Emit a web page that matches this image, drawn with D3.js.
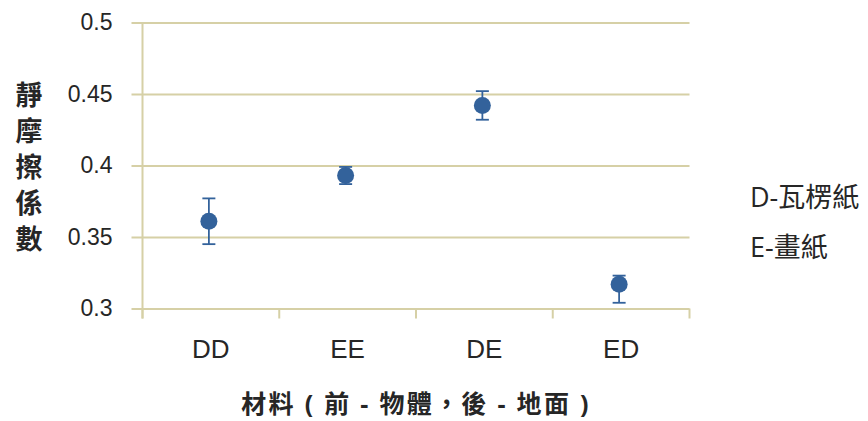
<!DOCTYPE html>
<html>
<head>
<meta charset="utf-8">
<script src="https://cdn.jsdelivr.net/npm/d3@7"></script>
<style>
  html, body { margin: 0; padding: 0; background: #fff; }
  svg { display: block; font-family: "Open Sans", "Noto Sans CJK TC", sans-serif; }
</style>
</head>
<body>
<svg id="chart" width="868" height="421"></svg>
<script>
// Static friction coefficient by material pairing (front = object, back = ground)
const categories = ["DD", "EE", "DE", "ED"];
const means      = [0.361, 0.393, 0.442, 0.317];
const errPlus    = [0.016, 0.006, 0.010, 0.006];
const errMinus   = [0.016, 0.006, 0.010, 0.013];
const yTicks     = [0.3, 0.35, 0.4, 0.45, 0.5];
const yTitle     = ["靜", "摩", "擦", "係", "數"];
const xTitle     = "材料 ( 前 - 物體，後 - 地面 )";
const notes      = ["D-瓦楞紙", "E-畫紙"];

const gridColor = "#d6d0a6";
const markColor = "#33629b";
const textColor = "#262626";

const svg = d3.select("#chart");
const margin = { left: 142.5, right: 178.5, top: 22.5, bottom: 112.5 };
const W = 868, H = 421;
const innerW = W - margin.left - margin.right;
const innerH = H - margin.top - margin.bottom;

const g = svg.append("g").attr("transform", `translate(${margin.left},${margin.top})`);

const x = d3.scaleBand().domain(categories).range([0, innerW]).padding(0);
const y = d3.scaleLinear().domain([0.3, 0.5]).range([innerH, 0]);

// Horizontal gridlines with outward ticks and value labels
const yAxis = g.append("g")
  .call(d3.axisLeft(y).tickValues(yTicks).tickSize(-innerW).tickPadding(30)
        .tickFormat(d => String(+d.toFixed(2))));
yAxis.select(".domain").remove();
yAxis.selectAll(".tick line")
  .attr("x1", -11)
  .attr("stroke", gridColor)
  .attr("stroke-width", 2);
yAxis.selectAll(".tick text")
  .attr("fill", textColor)
  .style("font-size", "23px");

// Vertical value axis line
g.append("line")
  .attr("x1", 0).attr("x2", 0)
  .attr("y1", 0).attr("y2", innerH + 10)
  .attr("stroke", gridColor).attr("stroke-width", 2);

// Category axis: labels centred in each band, ticks at band boundaries
const xAxis = g.append("g")
  .attr("transform", `translate(0,${innerH})`)
  .call(d3.axisBottom(x).tickSize(0).tickPadding(31));
xAxis.select(".domain").remove();
xAxis.selectAll(".tick text")
  .attr("fill", textColor)
  .style("font-size", "26px");

const bounds = categories.map(c => x(c)).concat([x.range()[1]]);
g.append("g")
  .selectAll("line")
  .data(bounds)
  .join("line")
  .attr("x1", d => d).attr("x2", d => d)
  .attr("y1", innerH).attr("y2", innerH + 10)
  .attr("stroke", gridColor).attr("stroke-width", 2);

// Error bars and points
const pts = categories.map((c, i) => ({ c, m: means[i], hi: means[i] + errPlus[i], lo: means[i] - errMinus[i] }));
const cx = d => x(d.c) + x.bandwidth() / 2 - 2;
const capW = 6.5;

const eb = g.append("g").attr("stroke", markColor).attr("stroke-width", 1.8);
eb.selectAll(".stem").data(pts).join("line")
  .attr("x1", cx).attr("x2", cx)
  .attr("y1", d => y(d.hi)).attr("y2", d => y(d.lo));
eb.selectAll(".capHi").data(pts).join("line")
  .attr("x1", d => cx(d) - capW).attr("x2", d => cx(d) + capW)
  .attr("y1", d => y(d.hi)).attr("y2", d => y(d.hi));
eb.selectAll(".capLo").data(pts).join("line")
  .attr("x1", d => cx(d) - capW).attr("x2", d => cx(d) + capW)
  .attr("y1", d => y(d.lo)).attr("y2", d => y(d.lo));

g.append("g").selectAll("circle").data(pts).join("circle")
  .attr("cx", cx).attr("cy", d => y(d.m)).attr("r", 8.5)
  .attr("fill", markColor);

// Vertical axis title, one character per line
const yt = svg.append("text")
  .attr("x", 29)
  .attr("y", margin.top + innerH / 2 - 2 * 36)
  .attr("text-anchor", "middle")
  .attr("dominant-baseline", "central")
  .attr("fill", textColor)
  .style("font-size", "27px")
  .style("font-weight", "bold");
yt.selectAll("tspan").data(yTitle).join("tspan")
  .attr("x", 29)
  .attr("dy", (d, i) => i === 0 ? 0 : 36)
  .text(d => d);

// Category axis title
svg.append("text")
  .attr("x", margin.left + innerW / 2)
  .attr("y", 403)
  .attr("text-anchor", "middle")
  .attr("dominant-baseline", "central")
  .attr("fill", textColor)
  .style("font-size", "25px")
  .style("font-weight", "bold")
  .style("letter-spacing", "2.3px")
  .text(xTitle);

// Material key on the right
svg.append("g").selectAll("text").data(notes).join("text")
  .attr("x", 750)
  .attr("y", (d, i) => 196 + i * 50)
  .attr("dominant-baseline", "central")
  .attr("fill", textColor)
  .style("font-size", "27px")
  .text(d => d);
</script>
</body>
</html>
